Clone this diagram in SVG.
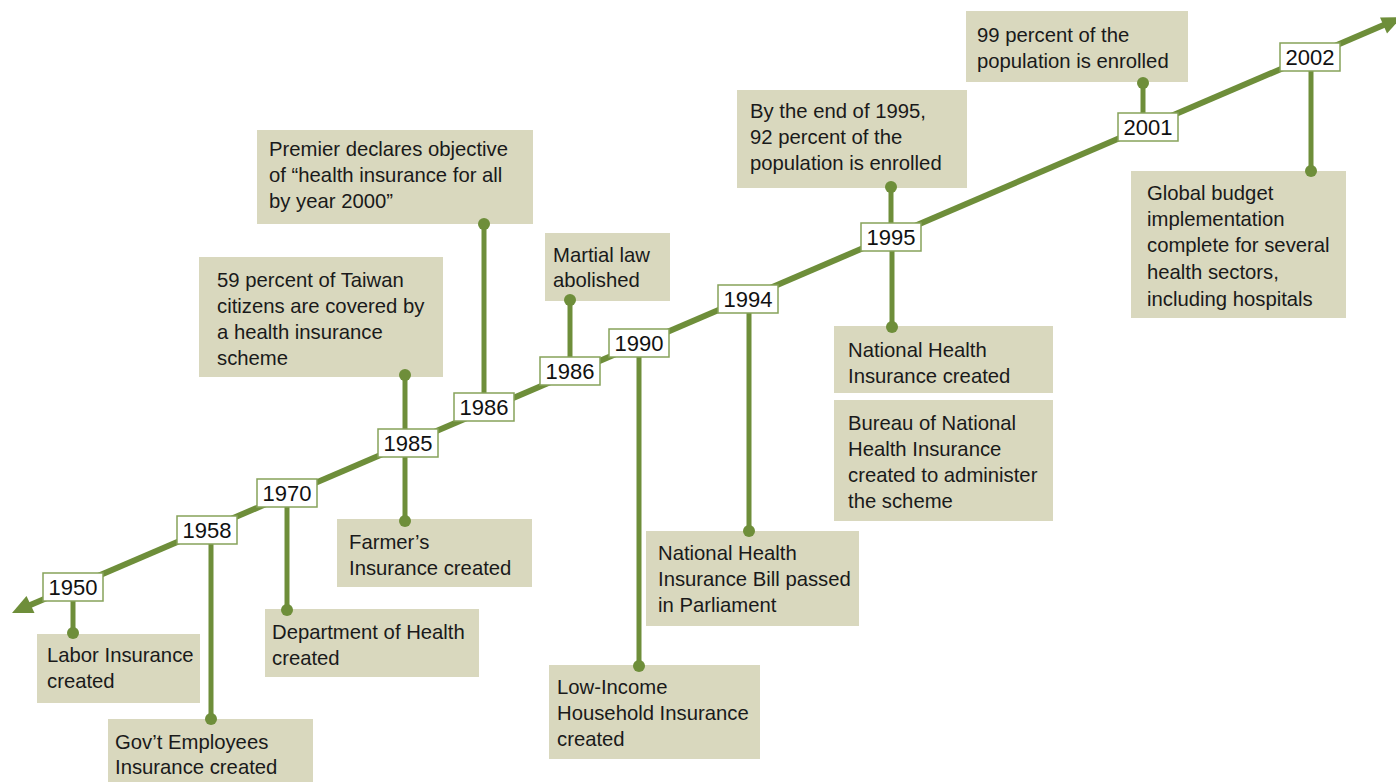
<svg xmlns="http://www.w3.org/2000/svg" width="1396" height="782" viewBox="0 0 1396 782">
  <style>
    .note rect { fill: #d9d8be; }
    .note text { font-family: "Liberation Sans", Arial, sans-serif; font-size: 20.3px; fill: #1a1a1a; }
    .year rect { fill: #ffffff; stroke: #86a25a; stroke-width: 1.5; }
    .year text { font-family: "Liberation Sans", Arial, sans-serif; font-size: 22px; fill: #111111; text-anchor: middle; }
    .axis { stroke: #6e8e3a; stroke-width: 6; fill: none; }
    .head { fill: #6e8e3a; }
    .conn line { stroke: #6e8e3a; stroke-width: 5; }
    .conn circle { fill: #6e8e3a; }
  </style>

  <!-- timeline axis with arrowheads at both ends -->
  <g id="axis">
    <line class="axis" x1="28" y1="606" x2="1386" y2="24"/>
    <polygon class="head" points="12,613 34.5,613 26.5,596"/>
    <polygon class="head" points="1402,17 1380,17.5 1387,33.5"/>
  </g>

  <!-- event notes -->
  <g id="note-labor" class="note">
    <rect x="37" y="634" width="163" height="69"/>
    <text x="47" y="662">Labor Insurance</text>
    <text x="47" y="688">created</text>
  </g>
  <g id="note-govt" class="note">
    <rect x="108" y="719" width="205" height="63"/>
    <text x="115" y="749">Gov’t Employees</text>
    <text x="115" y="774">Insurance created</text>
  </g>
  <g id="note-dept" class="note">
    <rect x="265" y="609" width="214" height="68"/>
    <text x="272" y="639">Department of Health</text>
    <text x="272" y="665">created</text>
  </g>
  <g id="note-farmer" class="note">
    <rect x="337" y="519" width="195" height="68"/>
    <text x="349" y="549">Farmer’s</text>
    <text x="349" y="575">Insurance created</text>
  </g>
  <g id="note-59pct" class="note">
    <rect x="199" y="257" width="244" height="120"/>
    <text x="217" y="287">59 percent of Taiwan</text>
    <text x="217" y="313">citizens are covered by</text>
    <text x="217" y="339">a health insurance</text>
    <text x="217" y="365">scheme</text>
  </g>
  <g id="note-premier" class="note">
    <rect x="257" y="130" width="276" height="94"/>
    <text x="269" y="156">Premier declares objective</text>
    <text x="269" y="182">of “health insurance for all</text>
    <text x="269" y="208">by year 2000”</text>
  </g>
  <g id="note-martial" class="note">
    <rect x="545" y="233" width="125" height="68"/>
    <text x="553" y="262">Martial law</text>
    <text x="553" y="287">abolished</text>
  </g>
  <g id="note-lowincome" class="note">
    <rect x="549" y="665" width="211" height="94"/>
    <text x="557" y="694">Low-Income</text>
    <text x="557" y="720">Household Insurance</text>
    <text x="557" y="746">created</text>
  </g>
  <g id="note-nhibill" class="note">
    <rect x="646" y="531" width="213" height="95"/>
    <text x="658" y="560">National Health</text>
    <text x="658" y="586">Insurance Bill passed</text>
    <text x="658" y="612">in Parliament</text>
  </g>
  <g id="note-92pct" class="note">
    <rect x="737" y="90" width="230" height="98"/>
    <text x="750" y="118">By the end of 1995,</text>
    <text x="750" y="144">92 percent of the</text>
    <text x="750" y="170">population is enrolled</text>
  </g>
  <g id="note-nhi" class="note">
    <rect x="834" y="326" width="219" height="67"/>
    <text x="848" y="357">National Health</text>
    <text x="848" y="383">Insurance created</text>
  </g>
  <g id="note-bureau" class="note">
    <rect x="834" y="400" width="219" height="121"/>
    <text x="848" y="430">Bureau of National</text>
    <text x="848" y="456">Health Insurance</text>
    <text x="848" y="482">created to administer</text>
    <text x="848" y="508">the scheme</text>
  </g>
  <g id="note-99pct" class="note">
    <rect x="966" y="11" width="222" height="71"/>
    <text x="977" y="42">99 percent of the</text>
    <text x="977" y="68">population is enrolled</text>
  </g>
  <g id="note-global" class="note">
    <rect x="1131" y="171" width="215" height="147"/>
    <text x="1147" y="200">Global budget</text>
    <text x="1147" y="226">implementation</text>
    <text x="1147" y="252">complete for several</text>
    <text x="1147" y="279">health sectors,</text>
    <text x="1147" y="306">including hospitals</text>
  </g>

  <!-- connectors: stems from year markers to notes, dot at the note end -->
  <g id="connectors" class="conn">
    <line x1="73" y1="601" x2="73" y2="633"/><circle cx="73" cy="633" r="6"/>
    <line x1="211" y1="544" x2="211" y2="719"/><circle cx="211" cy="719" r="6"/>
    <line x1="287" y1="507" x2="287" y2="610"/><circle cx="287" cy="610" r="6"/>
    <line x1="405" y1="375" x2="405" y2="429"/><circle cx="405" cy="375" r="6"/>
    <line x1="405" y1="457" x2="405" y2="521"/><circle cx="405" cy="521" r="6"/>
    <line x1="484" y1="224" x2="484" y2="393"/><circle cx="484" cy="224" r="6"/>
    <line x1="570" y1="300" x2="570" y2="357"/><circle cx="570" cy="300" r="6"/>
    <line x1="639" y1="357" x2="639" y2="666"/><circle cx="639" cy="666" r="6"/>
    <line x1="749" y1="313" x2="749" y2="531"/><circle cx="749" cy="531" r="6"/>
    <line x1="891" y1="187" x2="891" y2="223"/><circle cx="891" cy="187" r="6"/>
    <line x1="892" y1="251" x2="892" y2="327"/><circle cx="892" cy="327" r="6"/>
    <line x1="1143" y1="83" x2="1143" y2="113"/><circle cx="1143" cy="83" r="6"/>
    <line x1="1311" y1="71" x2="1311" y2="171"/><circle cx="1311" cy="171" r="6"/>
  </g>

  <!-- year markers on the axis -->
  <g id="y1950" class="year"><rect x="43" y="573" width="60" height="28"/><text x="73" y="595">1950</text></g>
  <g id="y1958" class="year"><rect x="177" y="516" width="60" height="28"/><text x="207" y="538">1958</text></g>
  <g id="y1970" class="year"><rect x="257" y="479" width="60" height="28"/><text x="287" y="501">1970</text></g>
  <g id="y1985" class="year"><rect x="378" y="429" width="60" height="28"/><text x="408" y="451">1985</text></g>
  <g id="y1986a" class="year"><rect x="454" y="393" width="60" height="28"/><text x="484" y="415">1986</text></g>
  <g id="y1986b" class="year"><rect x="540" y="357" width="60" height="28"/><text x="570" y="379">1986</text></g>
  <g id="y1990" class="year"><rect x="609" y="329" width="60" height="28"/><text x="639" y="351">1990</text></g>
  <g id="y1994" class="year"><rect x="718" y="285" width="60" height="28"/><text x="748" y="307">1994</text></g>
  <g id="y1995" class="year"><rect x="861" y="223" width="60" height="28"/><text x="891" y="245">1995</text></g>
  <g id="y2001" class="year"><rect x="1118" y="113" width="60" height="28"/><text x="1148" y="135">2001</text></g>
  <g id="y2002" class="year"><rect x="1280" y="43" width="60" height="28"/><text x="1310" y="65">2002</text></g>
</svg>
